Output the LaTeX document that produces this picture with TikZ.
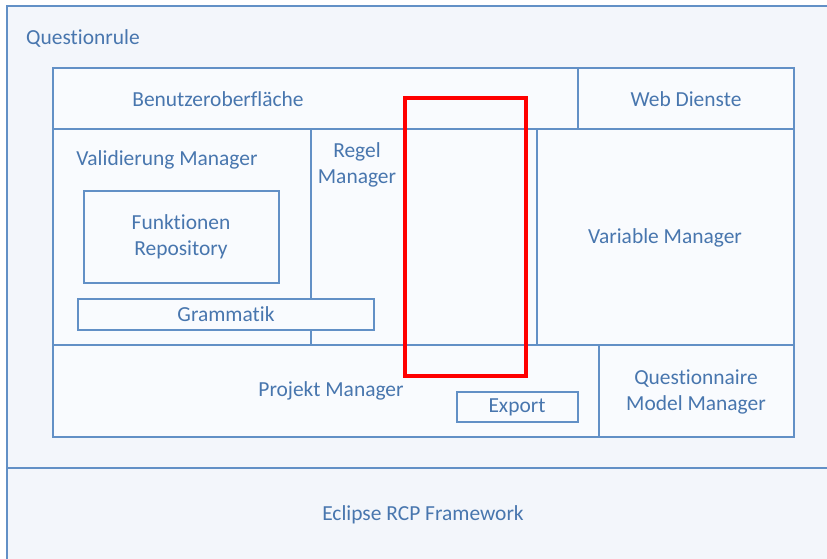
\documentclass[tikz,border=0pt]{standalone}
\usepackage{fontspec}
\setmainfont[Ligatures=NoCommon]{Carlito}
\usetikzlibrary{fit}
\definecolor{qblue}{RGB}{98,144,198}
\definecolor{qtext}{RGB}{72,118,174}
\definecolor{qfill}{RGB}{243,246,251}
\definecolor{qpart}{RGB}{249,251,254}

\begin{document}
\begin{tikzpicture}[
  x=0.03cm, y=-0.03cm,
  frame/.style  = {draw=qblue, line width=1.2pt, inner sep=0pt, fill=qfill},
  part/.style   = {frame, fill=qpart},
  txt/.style    = {text=qtext, font=\fontsize{18.3}{22}\selectfont, align=center, inner sep=0pt},
  redbox/.style = {draw=red, line width=2.8pt, inner sep=0pt},
]
\useasboundingbox (0,0) rectangle (827,559);

% outer layers
\node[frame] (rule)    [fit={(7,6) (832,468)}] {};
\node[frame] (eclipse) [fit={(7,468) (832,563)}] {};

% top row
\node[part] (gui) [fit={(53,68) (578,129)}]  {};
\node[part] (web) [fit={(578,68) (794,129)}] {};

% middle row
\node[part] (valid) [fit={(53,129) (311,345)}]  {};
\node[part] (regel) [fit={(311,129) (537,345)}] {};
\node[part] (var)   [fit={(537,129) (794,345)}] {};
\node[part] (funk)  [fit={(84,191) (279,283)}]  {};
\node[part] (gram)  [fit={(78,299) (374,330)}]  {};

% bottom row
\node[part] (proj)  [fit={(53,345) (599,437)}]  {};
\node[part] (quest) [fit={(599,345) (794,437)}] {};
\node[part] (exp)   [fit={(457,392) (578,422)}] {};

% labels
\node[txt, anchor=west] (rule-l) at (26,38) {Questionrule};
\node[txt] (gui-l)   at (218,99)  {Benutzeroberfläche};
\node[txt] (web-l)   at (686,99)  {Web Dienste};
\node[txt] (valid-l) at (167,160) {Validierung Manager};
\node[txt] (funk-l)  at (181,237) {Funktionen\\Repository};
\node[txt] (gram-l)  at (226,314) {Grammatik};
\node[txt] (regel-l) at (357,165) {Regel\\Manager};
\node[txt] (var-l)   at (665,238) {Variable Manager};
\node[txt] (proj-l)  at (331,391) {Projekt Manager};
\node[txt] (exp-l)   at (517,407) {Export};
\node[txt] (quest-l) at (696,392) {Questionnaire\\Model Manager};
\node[txt] (ecl-l)   at (423,515) {Eclipse RCP Framework};

% highlight
\node[redbox] (hl) [fit={(405,98) (526,376)}] {};

\end{tikzpicture}
\end{document}
